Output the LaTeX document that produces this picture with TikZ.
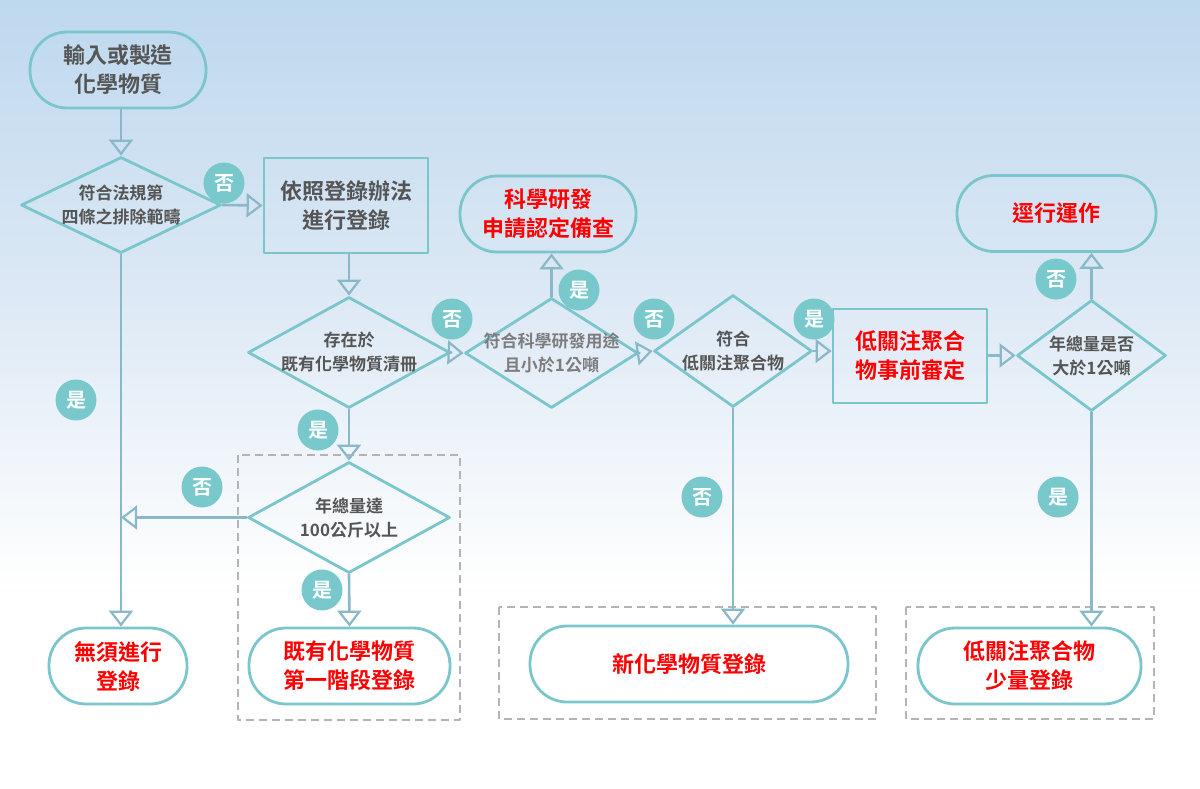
\documentclass[tikz,border=0pt]{standalone}
\usepackage{fontspec}
\setmainfont{Noto Sans CJK TC}[BoldFont={Noto Sans CJK TC Bold}]
\usetikzlibrary{shapes.geometric,arrows.meta}
\definecolor{tealc}{RGB}{122,198,204}
\definecolor{linec}{RGB}{137,184,201}
\definecolor{textc}{RGB}{85,85,85}
\definecolor{textl}{RGB}{125,125,125}
\definecolor{redc}{RGB}{255,0,0}
\definecolor{tagc}{RGB}{121,201,204}
\definecolor{boxc}{RGB}{180,180,180}
\definecolor{skya}{RGB}{190,216,238}
\definecolor{skyb}{RGB}{221,233,245}
\begin{document}
\begin{tikzpicture}[x=1pt, y=-1pt, line join=round, line cap=round]
			\tikzset{
				term/.style={draw=tealc, line width=2.8pt, rectangle, rounded corners=37pt, minimum height=76pt, align=center, text=redc, font=\fontsize{22}{29}\selectfont\bfseries},
				plain/.style={draw=tealc, line width=2.8pt, rectangle, align=center, text=redc, font=\fontsize{22}{29}\selectfont\bfseries},
				decide/.style={draw=tealc, line width=2.8pt, diamond, inner sep=0pt},
				dtext/.style={align=center, text=textc, font=\fontsize{17}{24}\selectfont\bfseries},
				tag/.style={circle, fill=tagc, text=white, minimum size=41pt, inner sep=0pt, font=\fontsize{20}{20}\selectfont\bfseries},
				flow/.style={draw=linec, line width=2.6pt, -{Triangle[open, length=16pt, width=24pt, line width=2.2pt]}},
				dashbox/.style={draw=boxc, line width=2.2pt, dash pattern=on 8pt off 5pt, line cap=butt}
			}
			%nen
			\useasboundingbox (0,0) rectangle (1200,788);
			\fill[white] (0,0) rectangle (1200,788);
			\shade[top color=skya, bottom color=skyb] (0,0) rectangle (1200,300);
			\shade[top color=skyb, bottom color=white] (0,300) rectangle (1200,590);
			%khung net dut
			\draw[dashbox] (238,455) rectangle (460,720);
			\draw[dashbox] (499,607) rectangle (876,719);
			\draw[dashbox] (906,607) rectangle (1154,719);
			%cac nut
			\node[term, minimum width=176pt, text=textc] (start) at (118,70) {輸入或製造\\化學物質};
			\node[decide, minimum width=200pt, minimum height=96pt, label={[dtext]center:符合法規第\\四條之排除範疇}] (d1) at (121,205) {};
			\node[plain, minimum width=164pt, minimum height=95pt, text=textc] (reg) at (346,205.5) {依照登錄辦法\\進行登錄};
			\node[decide, minimum width=202pt, minimum height=111pt, label={[dtext]center:存在於\\既有化學物質清冊}] (d2) at (349,352.5) {};
			\node[decide, minimum width=173pt, minimum height=110pt, label={[dtext, text=textl]center:符合科學研發用途\\且小於1公噸}] (d3) at (551.5,353) {};
			\node[term, minimum width=176pt] (sci) at (548,214) {科學研發\\申請認定備查};
			\node[decide, minimum width=158pt, minimum height=112pt, label={[dtext]center:符合\\低關注聚合物}] (d4) at (733,351) {};
			\node[plain, minimum width=154pt, minimum height=94pt] (lcp) at (910,356) {低關注聚合\\物事前審定};
			\node[decide, minimum width=149pt, minimum height=111pt, label={[dtext]center:年總量是否\\大於1公噸}] (d5) at (1091.5,355.5) {};
			\node[term, minimum width=199pt] (run) at (1056.5,213.5) {逕行運作};
			\node[decide, minimum width=202pt, minimum height=111pt, label={[dtext]center:年總量達\\100公斤以上}] (d6) at (349,517.5) {};
			\node[term, minimum width=138pt, fill=white] (none) at (118,666) {無須進行\\登錄};
			\node[term, minimum width=201pt, fill=white] (exist) at (349.5,666) {既有化學物質\\第一階段登錄};
			\node[term, minimum width=318pt, fill=white] (new) at (689,664) {新化學物質登錄};
			\node[term, minimum width=223pt, fill=white] (small) at (1029.5,666) {低關注聚合物\\少量登錄};
			%mui ten
			\coordinate (meet) at (d1.south |- d6.west);
			\draw[flow] (d1.north |- start.south) -- (d1.north);
			\draw[flow] (d1.east) -- (reg.west);
			\draw[flow] (d1.south) -- (d1.south |- none.north);
			\draw[flow] (reg.south -| d2.north) -- (d2.north);
			\draw[flow] (d2.east) -- (d3.west);
			\draw[flow] (d2.south) -- (d6.north);
			\draw[flow] (d6.west) -- (meet);
			\draw[flow] (d6.south) -- (exist.north);
			\draw[flow] (d3.north) -- (d3.north |- sci.south);
			\draw[flow] (d3.east) -- (d4.west);
			\draw[flow] (d4.south) -- (d4.south |- new.north);
			\draw[flow] (d4.east) -- (d4.east -| lcp.west);
			\draw[flow] (lcp.east |- d5.west) -- (d5.west);
			\draw[flow] (d5.north) -- (d5.north |- run.south);
			\draw[flow] (d5.south) -- (d5.south |- small.north);
			%nhan co/khong
			\node[tag] (n1) at (224,183) {否};
			\node[tag] (y1) at (76,400) {是};
			\node[tag] (n2) at (452,319) {否};
			\node[tag] (y2) at (318,430) {是};
			\node[tag] (n3) at (202,487) {否};
			\node[tag] (y3) at (322,590) {是};
			\node[tag] (y4) at (579,290) {是};
			\node[tag] (n4) at (654,319) {否};
			\node[tag] (n5) at (702,497) {否};
			\node[tag] (y5) at (814,319) {是};
			\node[tag] (n6) at (1056,279) {否};
			\node[tag] (y6) at (1058,497) {是};
\end{tikzpicture}
\end{document}
